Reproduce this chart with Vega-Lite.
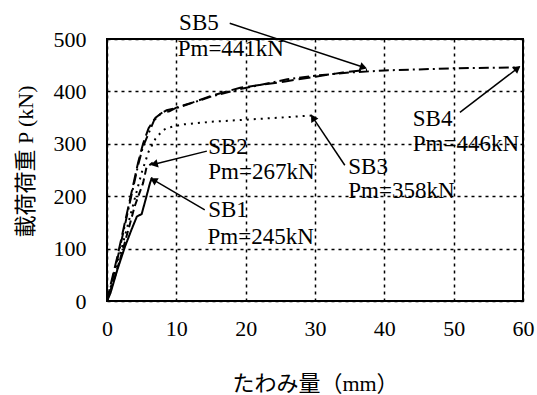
{
  "$schema": "https://vega.github.io/schema/vega-lite/v6.json",
  "width": 416,
  "height": 262,
  "autosize": "none",
  "padding": {"left": 107, "top": 39, "right": 14, "bottom": 94},
  "background": "white",
  "config": {"view": {"stroke": "black", "strokeWidth": 2}, "font": "Liberation Serif"},
  "datasets": {
    "curves": [
      {"series": "SB1", "x": 0, "P": 0}, {"series": "SB1", "x": 0.5, "P": 15}, {"series": "SB1", "x": 1.5, "P": 60},
      {"series": "SB1", "x": 2.6, "P": 104}, {"series": "SB1", "x": 3.5, "P": 135}, {"series": "SB1", "x": 4.3, "P": 161},
      {"series": "SB1", "x": 5.0, "P": 166}, {"series": "SB1", "x": 5.6, "P": 195}, {"series": "SB1", "x": 6.2, "P": 225},
      {"series": "SB1", "x": 6.5, "P": 236},
      {"series": "SB2", "x": 0, "P": 0}, {"series": "SB2", "x": 1, "P": 40}, {"series": "SB2", "x": 2, "P": 85},
      {"series": "SB2", "x": 3, "P": 132}, {"series": "SB2", "x": 4, "P": 181}, {"series": "SB2", "x": 5.2, "P": 225},
      {"series": "SB2", "x": 5.7, "P": 255}, {"series": "SB2", "x": 6.6, "P": 264},
      {"series": "SB3", "x": 0, "P": 0}, {"series": "SB3", "x": 1, "P": 45}, {"series": "SB3", "x": 2, "P": 95},
      {"series": "SB3", "x": 3, "P": 145}, {"series": "SB3", "x": 4, "P": 195}, {"series": "SB3", "x": 5, "P": 245},
      {"series": "SB3", "x": 6, "P": 285}, {"series": "SB3", "x": 7, "P": 310}, {"series": "SB3", "x": 8, "P": 325},
      {"series": "SB3", "x": 8.6, "P": 330}, {"series": "SB3", "x": 11, "P": 337}, {"series": "SB3", "x": 15, "P": 342},
      {"series": "SB3", "x": 20, "P": 346}, {"series": "SB3", "x": 25, "P": 350}, {"series": "SB3", "x": 29.5, "P": 354},
      {"series": "SB4", "x": 0, "P": 0}, {"series": "SB4", "x": 0.5, "P": 25}, {"series": "SB4", "x": 1.5, "P": 80},
      {"series": "SB4", "x": 2.5, "P": 140}, {"series": "SB4", "x": 3.5, "P": 200}, {"series": "SB4", "x": 4.5, "P": 260},
      {"series": "SB4", "x": 5.2, "P": 295}, {"series": "SB4", "x": 6, "P": 320}, {"series": "SB4", "x": 6.8, "P": 345},
      {"series": "SB4", "x": 7.8, "P": 358}, {"series": "SB4", "x": 8.6, "P": 364}, {"series": "SB4", "x": 10, "P": 368},
      {"series": "SB4", "x": 12.5, "P": 379}, {"series": "SB4", "x": 15, "P": 390}, {"series": "SB4", "x": 19, "P": 404},
      {"series": "SB4", "x": 22, "P": 412}, {"series": "SB4", "x": 26, "P": 423}, {"series": "SB4", "x": 30, "P": 430},
      {"series": "SB4", "x": 35, "P": 436}, {"series": "SB4", "x": 40, "P": 440}, {"series": "SB4", "x": 45, "P": 442},
      {"series": "SB4", "x": 50, "P": 444}, {"series": "SB4", "x": 55, "P": 445}, {"series": "SB4", "x": 59.5, "P": 446},
      {"series": "SB5", "x": 0, "P": 0}, {"series": "SB5", "x": 0.5, "P": 30}, {"series": "SB5", "x": 1.5, "P": 85},
      {"series": "SB5", "x": 2.5, "P": 145}, {"series": "SB5", "x": 3.5, "P": 205}, {"series": "SB5", "x": 4.5, "P": 265},
      {"series": "SB5", "x": 5.2, "P": 300}, {"series": "SB5", "x": 6, "P": 330}, {"series": "SB5", "x": 7, "P": 350},
      {"series": "SB5", "x": 8, "P": 360}, {"series": "SB5", "x": 9, "P": 362}, {"series": "SB5", "x": 10, "P": 369},
      {"series": "SB5", "x": 12.4, "P": 379}, {"series": "SB5", "x": 14.9, "P": 391}, {"series": "SB5", "x": 19.2, "P": 407},
      {"series": "SB5", "x": 22, "P": 412}, {"series": "SB5", "x": 25.7, "P": 419}, {"series": "SB5", "x": 30, "P": 428},
      {"series": "SB5", "x": 34, "P": 436}, {"series": "SB5", "x": 37.5, "P": 441}
    ],
    "arrows": [
      {"series": "SB5", "x": 17.7, "P": 530, "x2": 37.0, "P2": 446},
      {"series": "SB2", "x": 14.4, "P": 286, "x2": 6.8, "P2": 261},
      {"series": "SB1", "x": 14.1, "P": 174, "x2": 6.7, "P2": 231},
      {"series": "SB3", "x": 34.3, "P": 259, "x2": 29.7, "P2": 350},
      {"series": "SB4", "x": 50.9, "P": 360, "x2": 59.2, "P2": 444}
    ],
    "labels": [
      {"x": 10.4, "P": 531, "text": "SB5"}, {"x": 10.2, "P": 481, "text": "Pm=441kN"},
      {"x": 14.6, "P": 293, "text": "SB2"}, {"x": 14.6, "P": 247, "text": "Pm=267kN"},
      {"x": 14.6, "P": 174, "text": "SB1"}, {"x": 14.5, "P": 123, "text": "Pm=245kN"},
      {"x": 34.8, "P": 256, "text": "SB3"}, {"x": 34.8, "P": 209, "text": "Pm=358kN"},
      {"x": 44.1, "P": 347, "text": "SB4"}, {"x": 44.1, "P": 299, "text": "Pm=446kN"}
    ]
  },
  "layer": [
    {
      "data": {"name": "curves"},
      "mark": {"type": "line", "color": "black", "strokeWidth": 2},
      "encoding": {
        "x": {"field": "x", "type": "quantitative", "scale": {"domain": [0, 60], "nice": false},
          "axis": {"values": [0, 10, 20, 30, 40, 50, 60], "grid": true, "gridColor": "black", "gridDash": [3, 4], "gridWidth": 1.5, "gridOpacity": 1,
            "domain": false, "ticks": false,
            "labelFont": "Liberation Serif", "labelFontSize": 22, "labelColor": "black", "labelPadding": 17, "labelFlush": false,
            "title": "たわみ量（mm）", "titleFont": "'Liberation Serif', 'Noto Sans CJK JP'", "titleFontSize": 22, "titleFontWeight": "normal", "titleColor": "black",
            "titleX": 208, "titleY": 82, "titleAlign": "center", "titleBaseline": "middle"}},
        "y": {"field": "P", "type": "quantitative", "scale": {"domain": [0, 500], "nice": false},
          "axis": {"values": [0, 100, 200, 300, 400, 500], "grid": true, "gridColor": "black", "gridDash": [3, 4], "gridWidth": 1.5, "gridOpacity": 1,
            "domain": false, "ticks": false,
            "labelFont": "Liberation Serif", "labelFontSize": 22, "labelColor": "black", "labelPadding": 21,
            "title": "載荷荷重 P (kN)", "titleFont": "'Liberation Serif', 'Noto Sans CJK JP'", "titleFontSize": 22, "titleFontWeight": "normal", "titleColor": "black",
            "titleX": -82, "titleY": 122, "titleAlign": "center", "titleBaseline": "middle", "titleAngle": -90}},
        "strokeDash": {"field": "series", "type": "nominal", "legend": null,
          "scale": {"domain": ["SB1", "SB2", "SB3", "SB4", "SB5"], "range": [[1, 0], [7, 4], [2, 5], [10, 4, 2, 4], [12, 5]]}},
        "detail": {"field": "series"}
      }
    },
    {
      "data": {"name": "arrows"},
      "mark": {"type": "rule", "color": "black", "strokeWidth": 1.5},
      "encoding": {
        "x": {"field": "x", "type": "quantitative"},
        "y": {"field": "P", "type": "quantitative"},
        "x2": {"field": "x2"},
        "y2": {"field": "P2"}
      }
    },
    {"data": {"name": "arrows"}, "transform": [{"filter": "datum.series == 'SB5'"}],
      "mark": {"type": "point", "shape": "triangle-up", "filled": true, "color": "black", "opacity": 1, "size": 70, "angle": 108},
      "encoding": {"x": {"field": "x2", "type": "quantitative"}, "y": {"field": "P2", "type": "quantitative"}}},
    {"data": {"name": "arrows"}, "transform": [{"filter": "datum.series == 'SB2'"}],
      "mark": {"type": "point", "shape": "triangle-up", "filled": true, "color": "black", "opacity": 1, "size": 70, "angle": 256},
      "encoding": {"x": {"field": "x2", "type": "quantitative"}, "y": {"field": "P2", "type": "quantitative"}}},
    {"data": {"name": "arrows"}, "transform": [{"filter": "datum.series == 'SB1'"}],
      "mark": {"type": "point", "shape": "triangle-up", "filled": true, "color": "black", "opacity": 1, "size": 70, "angle": 300},
      "encoding": {"x": {"field": "x2", "type": "quantitative"}, "y": {"field": "P2", "type": "quantitative"}}},
    {"data": {"name": "arrows"}, "transform": [{"filter": "datum.series == 'SB3'"}],
      "mark": {"type": "point", "shape": "triangle-up", "filled": true, "color": "black", "opacity": 1, "size": 70, "angle": 328},
      "encoding": {"x": {"field": "x2", "type": "quantitative"}, "y": {"field": "P2", "type": "quantitative"}}},
    {"data": {"name": "arrows"}, "transform": [{"filter": "datum.series == 'SB4'"}],
      "mark": {"type": "point", "shape": "triangle-up", "filled": true, "color": "black", "opacity": 1, "size": 70, "angle": 52},
      "encoding": {"x": {"field": "x2", "type": "quantitative"}, "y": {"field": "P2", "type": "quantitative"}}},
    {
      "data": {"name": "labels"},
      "mark": {"type": "text", "align": "left", "baseline": "middle", "font": "Liberation Serif", "fontSize": 23, "color": "black"},
      "encoding": {
        "x": {"field": "x", "type": "quantitative"},
        "y": {"field": "P", "type": "quantitative"},
        "text": {"field": "text"}
      }
    }
  ]
}
